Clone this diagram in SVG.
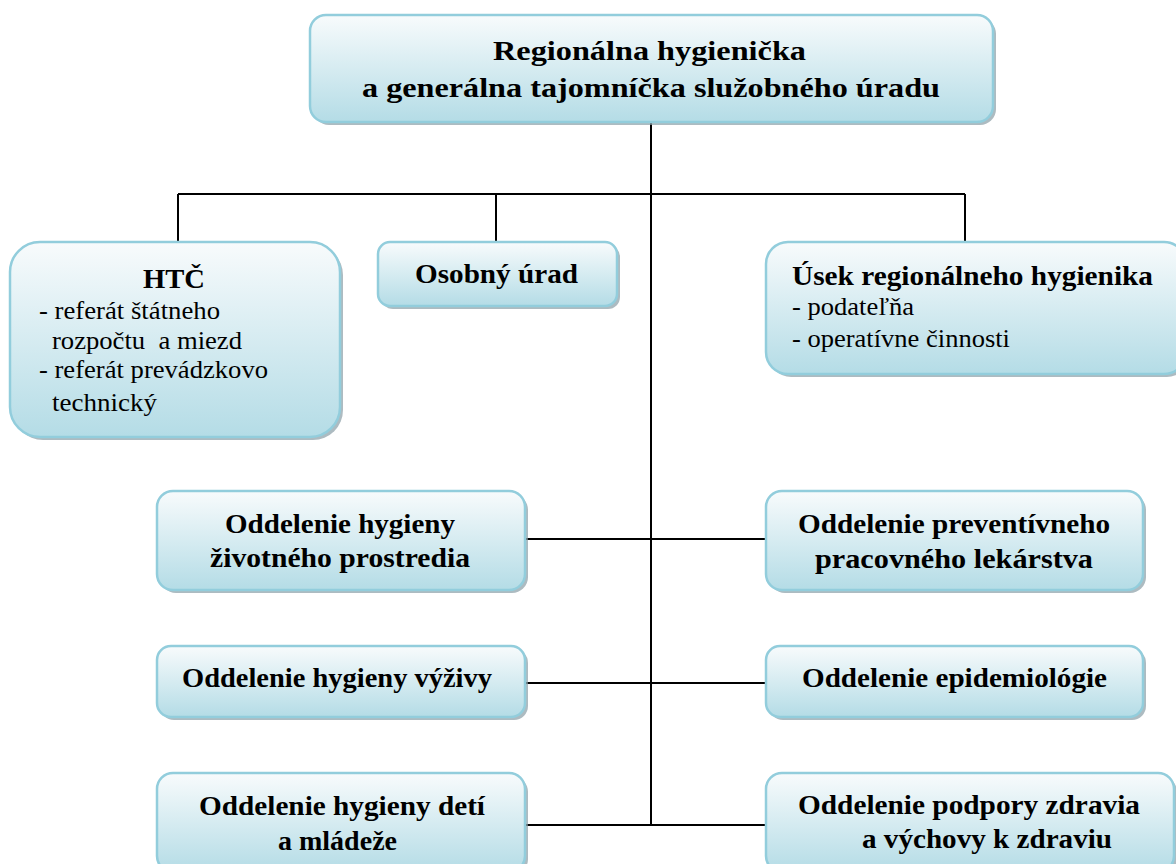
<svg xmlns="http://www.w3.org/2000/svg" width="1176" height="864" viewBox="0 0 1176 864">
<defs>
<linearGradient id="g" x1="0" y1="0" x2="0" y2="1">
<stop offset="0" stop-color="#f8fbfc"/>
<stop offset="1" stop-color="#b4dce6"/>
</linearGradient>
</defs>
<style>
.box{fill:url(#g);stroke:#92cddc;stroke-width:2.5}
.sh{fill:#8a9ea6;opacity:0.7}
.b{font-weight:bold;font-size:28px;fill:#000}
.r{font-size:25px;fill:#000}
.ln{stroke:#000;stroke-width:2;fill:none}
</style>
<rect width="1176" height="864" fill="#fff"/>
<g id="connectors">
<path class="ln" d="M651 122V825M178 194H965M178 194V242M496 194V242M965 194V242M525 539H766M525 683H766M525 825H766"/>
</g>
<g font-family="'Liberation Serif', 'Times New Roman', 'Noto Serif', 'DejaVu Serif', serif" lengthAdjust="spacingAndGlyphs">
<g id="top">
<rect class="sh" x="313" y="18" width="683" height="107" rx="16"/>
<rect class="box" x="310" y="15" width="683" height="107" rx="16"/>
<text class="b" x="493" y="60" font-size="30" textLength="313" lengthAdjust="spacingAndGlyphs">Regionálna hygienička</text>
<text class="b" x="362" y="97" font-size="30" textLength="578" lengthAdjust="spacingAndGlyphs">a generálna tajomníčka služobného úradu</text>
</g>
<g id="htc">
<rect class="sh" x="13" y="245" width="330" height="195" rx="30"/>
<rect class="box" x="10" y="242" width="330" height="195" rx="30"/>
<text class="b" x="143" y="288" textLength="62" lengthAdjust="spacingAndGlyphs">HTČ</text>
<text class="r" x="39" y="319" textLength="181" lengthAdjust="spacingAndGlyphs">- referát štátneho</text>
<text class="r" x="52" y="349" xml:space="preserve" textLength="190" lengthAdjust="spacingAndGlyphs">rozpočtu  a miezd</text>
<text class="r" x="39" y="378" textLength="229" lengthAdjust="spacingAndGlyphs">- referát prevádzkovo</text>
<text class="r" x="52" y="411" textLength="105" lengthAdjust="spacingAndGlyphs">technický</text>
</g>
<g id="osobny">
<rect class="sh" x="381" y="245" width="239" height="64" rx="12"/>
<rect class="box" x="378" y="242" width="239" height="64" rx="12"/>
<text class="b" x="415" y="283" textLength="163" lengthAdjust="spacingAndGlyphs">Osobný úrad</text>
</g>
<g id="usek">
<rect class="sh" x="769" y="245" width="420" height="132" rx="22"/>
<rect class="box" x="766" y="242" width="420" height="132" rx="22"/>
<text class="b" x="792" y="285" textLength="361" lengthAdjust="spacingAndGlyphs">Úsek regionálneho hygienika</text>
<text class="r" x="792" y="315" textLength="122" lengthAdjust="spacingAndGlyphs">- podateľňa</text>
<text class="r" x="792" y="347" textLength="218" lengthAdjust="spacingAndGlyphs">- operatívne činnosti</text>
</g>
<g id="zp">
<rect class="sh" x="160" y="494" width="368" height="99" rx="16"/>
<rect class="box" x="157" y="491" width="368" height="99" rx="16"/>
<text class="b" x="225" y="533" textLength="230" lengthAdjust="spacingAndGlyphs">Oddelenie hygieny</text>
<text class="b" x="210" y="567" textLength="260" lengthAdjust="spacingAndGlyphs">životného prostredia</text>
</g>
<g id="ppl">
<rect class="sh" x="769" y="494" width="377" height="99" rx="16"/>
<rect class="box" x="766" y="491" width="377" height="99" rx="16"/>
<text class="b" x="798" y="533" textLength="312" lengthAdjust="spacingAndGlyphs">Oddelenie preventívneho</text>
<text class="b" x="815" y="568" textLength="278" lengthAdjust="spacingAndGlyphs">pracovného lekárstva</text>
</g>
<g id="vyziva">
<rect class="sh" x="160" y="649" width="368" height="71" rx="14"/>
<rect class="box" x="157" y="646" width="368" height="71" rx="14"/>
<text class="b" x="182" y="687" textLength="310" lengthAdjust="spacingAndGlyphs">Oddelenie hygieny výživy</text>
</g>
<g id="epid">
<rect class="sh" x="769" y="649" width="377" height="71" rx="14"/>
<rect class="box" x="766" y="646" width="377" height="71" rx="14"/>
<text class="b" x="802" y="687" textLength="305" lengthAdjust="spacingAndGlyphs">Oddelenie epidemiológie</text>
</g>
<g id="deti">
<rect class="sh" x="160" y="776" width="368" height="99" rx="16"/>
<rect class="box" x="157" y="773" width="368" height="99" rx="16"/>
<text class="b" x="199" y="815" textLength="286" lengthAdjust="spacingAndGlyphs">Oddelenie hygieny detí</text>
<text class="b" x="278" y="850" textLength="119" lengthAdjust="spacingAndGlyphs">a mládeže</text>
</g>
<g id="podpora">
<rect class="sh" x="769" y="776" width="408" height="99" rx="16"/>
<rect class="box" x="766" y="773" width="408" height="99" rx="16"/>
<text class="b" x="798" y="814" textLength="342" lengthAdjust="spacingAndGlyphs">Oddelenie podpory zdravia</text>
<text class="b" x="862" y="848" textLength="250" lengthAdjust="spacingAndGlyphs">a výchovy k zdraviu</text>
</g>
</g>
</svg>
